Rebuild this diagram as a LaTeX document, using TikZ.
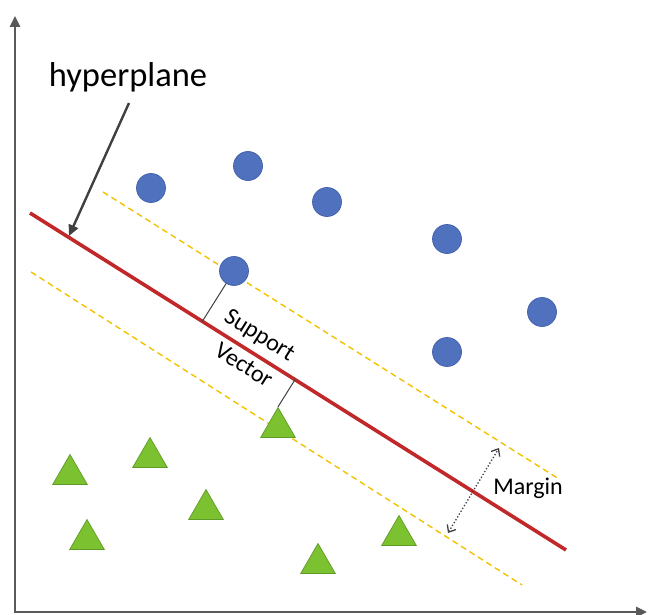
\documentclass[tikz,border=0pt]{standalone}
\usepackage{fontspec}
\setmainfont{Carlito}
\usetikzlibrary{shapes.geometric,arrows.meta,calc}
\definecolor{dotblue}{HTML}{4F71BE}
\definecolor{dotblueedge}{HTML}{3F5FA8}
\definecolor{trigreen}{HTML}{7CC12F}
\definecolor{trigreenedge}{HTML}{5E9B27}
\definecolor{hyperred}{HTML}{C0282A}
\definecolor{marginyellow}{HTML}{F2C200}
\definecolor{axisgray}{HTML}{595959}
\definecolor{pointergray}{HTML}{404040}
\begin{document}
\begin{tikzpicture}[x=1pt,y=-1pt,
  axis/.style={draw=axisgray,line width=2.6pt,{Triangle[length=11pt,width=10pt]}-{Triangle[length=11pt,width=10pt]}},
  dotpt/.style={circle,fill=dotblue,draw=dotblueedge,line width=0.7pt,minimum size=29pt,inner sep=0pt},
  tript/.style={regular polygon,regular polygon sides=3,fill=trigreen,draw=trigreenedge,line width=0.7pt,minimum size=40pt,inner sep=0pt},
  hyper/.style={draw=hyperred,line width=3.6pt},
  marginline/.style={draw=marginyellow,line width=1.4pt,dash pattern=on 6pt off 4pt},
  supportline/.style={draw=pointergray,line width=1pt},
  pointer/.style={draw=pointergray,line width=2.4pt,-{Triangle[length=11pt,width=10pt]}},
  marginarrow/.style={draw=pointergray,line width=1.3pt,dotted,{Straight Barb[length=6pt,width=10pt]}-{Straight Barb[length=6pt,width=10pt]}},
  lbl/.style={inner sep=0pt,text=black}]
\useasboundingbox (0,0) rectangle (648,615);

% axes
\coordinate (ytop) at (15,16);
\coordinate (orig) at (15,612);
\coordinate (xend) at (647,612);
\draw[axis] (ytop) -- (orig) -- (xend);

% hyperplane and margins
\coordinate (h1) at (30,213);
\coordinate (h2) at (566,550);
\coordinate (u1) at (103,192);
\coordinate (u2) at (559,479);
\coordinate (l1) at (31,272);
\coordinate (l2) at (522,585);
\draw[marginline] (u1) -- (u2);
\draw[marginline] (l1) -- (l2);
\draw[hyper] (h1) -- (h2);

% circles
\node[dotpt] (c1) at (151,188) {};
\node[dotpt] (c2) at (248,166) {};
\node[dotpt] (c3) at (327,202) {};
\node[dotpt] (c4) at (447,239) {};
\node[dotpt] (c5) at (542,312) {};
\node[dotpt] (c6) at (447,352) {};
\node[dotpt] (c7) at (234,271) {};

% triangles (center = apex + 20)
\node[tript] (t1) at (70,474.5) {};
\node[tript] (t2) at (150,457.5) {};
\node[tript] (t3) at (206,509.5) {};
\node[tript] (t4) at (87,539.5) {};
\node[tript] (t5) at (278,427.5) {};
\node[tript] (t6) at (318,563.5) {};
\node[tript] (t7) at (399,535.5) {};

% support vector lines
\draw[supportline] (c7) -- ($(h1)!(c7)!(h2)$);
\draw[supportline] (t5.corner 1) -- ($(h1)!(t5.corner 1)!(h2)$);

% labels
\node[lbl,anchor=base,font=\fontsize{34.5}{38}\selectfont] (hl) at (128,87) {hyperplane};
\coordinate (hs) at (129,103);
\coordinate (ht) at (69,236);
\draw[pointer] (hs) -- (ht);

\node[lbl,rotate=-32.2,font=\fontsize{24}{26}\selectfont] (sup) at (259,336) {Support};
\node[lbl,rotate=-32.2,font=\fontsize{24}{26}\selectfont] (vec) at (244,365) {Vector};

\node[lbl,anchor=base,font=\fontsize{24}{26}\selectfont] (mg) at (528,494) {Margin};
\coordinate (ma) at (448,533);
\coordinate (mb) at (499,448);
\draw[marginarrow] (ma) -- (mb);
\end{tikzpicture}
\end{document}
